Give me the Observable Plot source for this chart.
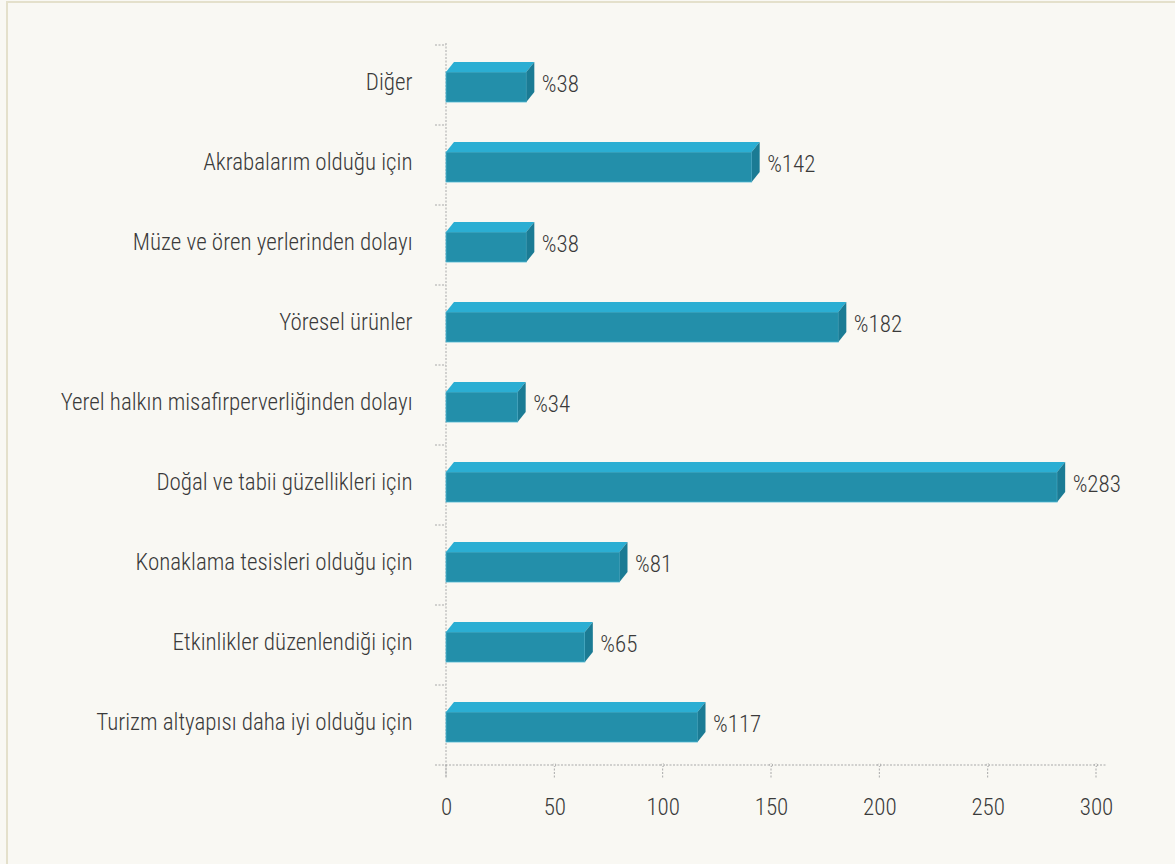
<!DOCTYPE html>
<html><head><meta charset="utf-8">
<script src="https://cdn.jsdelivr.net/npm/d3@7"></script>
<script src="https://cdn.jsdelivr.net/npm/@observablehq/plot@0.6"></script>
<style>
body{margin:0;background:#f9f8f3;width:1175px;height:864px;overflow:hidden;position:relative;}
#frame{position:absolute;left:6px;top:1px;right:0;bottom:0;border-left:2px solid #e4e0cb;border-top:2px solid #e4e0cb;}
#chart{position:absolute;left:0;top:0;}
</style>
</head><body>
<div id="frame"></div>
<div id="chart"></div>
<script>
const categories = [
  "Diğer",
  "Akrabalarım olduğu için",
  "Müze ve ören yerlerinden dolayı",
  "Yöresel ürünler",
  "Yerel halkın misafirperverliğinden dolayı",
  "Doğal ve tabii güzellikleri için",
  "Konaklama tesisleri olduğu için",
  "Etkinlikler düzenlendiği için",
  "Turizm altyapısı daha iyi olduğu için"
];
const values = [38, 142, 38, 182, 34, 283, 81, 65, 117];
const valueLabels = ["%38", "%142", "%38", "%182", "%34", "%283", "%81", "%65", "%117"];
const xTicks = [0, 50, 100, 150, 200, 250, 300];

const data = categories.map((c, i) => ({cat: c, value: values[i], label: valueLabels[i]}));

const FRONT = "#238faa", TOP = "#2baed3", SIDE = "#1b7b94", EDGE = "#4fb6d2";
const GRID = "#a9a9a9";
const insetTop = 27, insetBottom = 23, depthX = 8, depthY = 10, endInset = 2;

function frameMark(index, scales) {
  const x = scales.x, y = scales.y;
  const bw = y.bandwidth ? y.bandwidth() : 80;
  const g = d3.create("svg:g").attr("fill", "none").attr("stroke", GRID)
    .attr("stroke-width", 1).attr("stroke-dasharray", "2,1.5");
  const x0 = x(0);
  const yTop = y(categories[0]);
  const yBot = y(categories[categories.length - 1]) + bw;
  const xEnd = x(xTicks[xTicks.length - 1]);
  g.append("line").attr("x1", x0).attr("x2", x0).attr("y1", yTop - 2).attr("y2", yBot + 13);
  g.append("line").attr("x1", x0 - 11).attr("x2", xEnd + 11).attr("y1", yBot).attr("y2", yBot);
  categories.forEach(c => {
    const yy = y(c);
    g.append("line").attr("x1", x0 - 11).attr("x2", x0).attr("y1", yy).attr("y2", yy);
  });
  xTicks.forEach(t => {
    const xx = x(t);
    g.append("line").attr("x1", xx).attr("x2", xx).attr("y1", yBot).attr("y2", yBot + 13);
    if (t > 0) g.append("circle").attr("cx", xx).attr("cy", yBot).attr("r", 1.5)
      .attr("stroke-dasharray", null).attr("fill", "#f9f8f3");
  });
  return g.node();
}

function facesMark(index, scales) {
  const x = scales.x, y = scales.y;
  const g = d3.create("svg:g");
  const x0 = x(0);
  const bw = y.bandwidth ? y.bandwidth() : 80;
  data.forEach(d => {
    const yb = y(d.cat);
    const yT = yb + insetTop, yB = yb + bw - insetBottom;
    const xv = x(d.value) - endInset;
    g.append("polygon")
      .attr("points", [[x0, yT], [x0 + depthX, yT - depthY], [xv + depthX, yT - depthY], [xv, yT]].map(p => p.join(",")).join(" "))
      .attr("fill", TOP);
    g.append("polygon")
      .attr("points", [[xv, yT], [xv + depthX, yT - depthY], [xv + depthX, yB - depthY], [xv, yB]].map(p => p.join(",")).join(" "))
      .attr("fill", SIDE);
  });
  return g.node();
}

const chart = Plot.plot({
  width: 1175,
  height: 864,
  marginLeft: 446,
  marginRight: 79,
  marginTop: 45,
  marginBottom: 99,
  x: {domain: [0, 300], ticks: xTicks, label: null},
  y: {domain: categories, padding: 0, label: null},
  style: {background: "transparent", fontFamily: "Roboto", fontStretch: "condensed", fontWeight: 350, fontSize: "23px", color: "#404040"},
  marks: [
    frameMark,
    Plot.axisX({ticks: xTicks, tickSize: 0, tickPadding: 33, fill: "#3a3a3a", fontSize: 23, label: null}),
    Plot.axisY({tickSize: 0, tickPadding: 34, dy: -3, fill: "#3a3a3a", fontSize: 23, label: null}),
    Plot.barX(data, {x1: 0, x2: "value", y: "cat", insetTop, insetBottom, insetRight: endInset, fill: FRONT, stroke: EDGE, strokeWidth: 0.8}),
    facesMark,
    Plot.text(data, {x: "value", y: "cat", text: "label", textAnchor: "start", dx: 13, dy: -1, fill: "#3a3a3a", fontSize: 23})
  ]
});
document.getElementById("chart").append(chart);
</script>
</body></html>
